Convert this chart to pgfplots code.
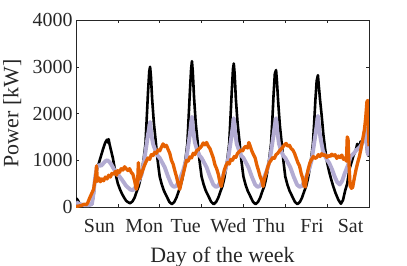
\documentclass[border=0pt]{standalone}
\usepackage{fontspec}
\setmainfont{Liberation Serif}
\usepackage{pgfplots}
\pgfplotsset{compat=1.18}
\definecolor{axgray}{RGB}{38,38,38}
\definecolor{lav}{RGB}{178,171,210}
\definecolor{org}{RGB}{230,97,1}
\begin{document}
\begin{tikzpicture}
\path[use as bounding box] (0,0) rectangle (407bp,266bp);
\begin{axis}[
 at={(76bp,59bp)}, anchor=south west,
 scale only axis, width=293bp, height=187bp,
 xmin=0,xmax=7,ymin=0,ymax=4000,
 xtick={1,...,6}, xticklabels={},
 extra x ticks={0.56,1.63,2.62,3.64,4.61,5.64,6.56},
 extra x tick labels={Sun,Mon,Tue,Wed,Thu,Fri,Sat},
 extra x tick style={major tick length=0pt},
 ytick={0,1000,2000,3000,4000},
 tick align=inside, major tick length=3bp,
 tick style={axgray, line width=0.5bp},
 axis line style={axgray, line width=0.6bp},
 ticklabel style={font=\fontsize{20}{24}\selectfont, text=axgray},
 xticklabel style={yshift=-8.5bp},
 /pgf/number format/assume math mode=true,
 /pgf/number format/set thousands separator={},
 xlabel={Day of the week}, ylabel={Power [kW]},
 label style={font=\fontsize{22}{26}\selectfont, text=axgray},
 xlabel style={at={(axis description cs:0.5,-0.266)}, anchor=center},
 ylabel style={at={(axis description cs:-0.218,0.5)}, anchor=center},
 every axis plot/.append style={line join=round, no markers},
]
\addplot[black, line width=2.6bp] coordinates {
(0,190)(0.04,150)(0.08,80)(0.12,40)(0.2,30)(0.3,35)(0.38,60)(0.42,250)(0.46,600)(0.5,800)(0.55,950)(0.6,1100)(0.65,1250)(0.7,1380)(0.74,1440)(0.76,1380)(0.78,1450)(0.8,1350)(0.84,1200)(0.88,1050)(0.92,850)(0.96,650)(1.0,500)(1.05,380)(1.1,280)(1.15,200)(1.2,130)(1.25,100)
(1.29,80)(1.35,120)(1.4,200)(1.45,330)(1.5,450)(1.54,600)(1.58,800)(1.62,1050)(1.66,1350)(1.69,1900)(1.72,2450)(1.75,2900)(1.77,3000)(1.79,2800)(1.82,2300)(1.86,1800)(1.9,1450)(1.95,1000)(2.0,650)(2.05,480)(2.1,350)(2.17,220)(2.23,110)
(2.29,60)(2.35,110)(2.4,200)(2.45,330)(2.5,460)(2.54,600)(2.58,800)(2.62,1050)(2.66,1350)(2.69,1900)(2.72,2450)(2.75,2950)(2.77,3120)(2.79,2900)(2.82,2350)(2.86,1800)(2.9,1450)(2.95,1000)(3.0,650)(3.05,480)(3.1,350)(3.17,220)(3.23,110)
(3.29,60)(3.35,110)(3.4,200)(3.45,330)(3.5,450)(3.54,600)(3.58,800)(3.62,1050)(3.66,1350)(3.69,1900)(3.72,2450)(3.75,2950)(3.77,3070)(3.79,2850)(3.82,2300)(3.86,1800)(3.9,1450)(3.95,1000)(4.0,650)(4.05,480)(4.1,350)(4.17,220)(4.23,110)
(4.29,60)(4.35,110)(4.4,200)(4.45,330)(4.5,450)(4.54,600)(4.58,800)(4.62,1050)(4.66,1350)(4.69,1850)(4.72,2400)(4.75,2850)(4.78,2930)(4.8,2700)(4.83,2250)(4.87,1750)(4.91,1400)(4.96,950)(5.0,650)(5.05,480)(5.1,350)(5.17,220)(5.23,110)
(5.29,60)(5.35,110)(5.4,200)(5.45,330)(5.5,450)(5.54,600)(5.58,800)(5.62,1050)(5.66,1350)(5.69,1800)(5.72,2300)(5.75,2700)(5.78,2820)(5.8,2600)(5.83,2300)(5.87,1950)(5.91,1550)(5.95,1250)(6.0,950)(6.05,750)(6.1,580)(6.15,430)(6.2,300)(6.27,150)(6.33,70)(6.38,150)(6.43,350)(6.48,500)(6.53,800)(6.58,950)(6.63,1100)(6.68,1200)(6.72,1350)(6.76,1250)(6.8,1400)(6.85,1380)(6.9,1650)(6.93,1450)(6.96,1150)(7.0,1080)
};
\addplot[lav, line width=3.9bp] coordinates {
(0,100)(0.05,80)(0.1,60)(0.2,40)(0.3,40)(0.38,60)(0.42,300)(0.46,650)(0.5,850)(0.55,900)(0.6,880)(0.65,930)(0.7,980)(0.75,1000)(0.8,960)(0.85,900)(0.9,820)(0.95,750)(1.0,700)(1.05,640)(1.1,580)(1.2,450)(1.3,370)(1.36,360)(1.42,420)(1.5,560)(1.57,700)(1.63,1000)(1.68,1300)(1.72,1550)(1.75,1700)(1.77,1820)
(1.8,1550)(1.84,1350)(1.9,1200)(1.95,1100)(2.0,1050)(2.06,950)(2.12,850)(2.2,650)(2.28,480)(2.34,430)(2.4,450)(2.48,600)(2.56,780)(2.63,1000)(2.68,1300)(2.72,1550)(2.75,1800)(2.77,1930)
(2.8,1630)(2.84,1380)(2.9,1200)(2.95,1100)(3.0,1050)(3.06,950)(3.12,850)(3.2,650)(3.28,480)(3.34,430)(3.4,450)(3.48,600)(3.56,780)(3.63,1000)(3.68,1300)(3.72,1550)(3.75,1750)(3.77,1900)
(3.8,1600)(3.84,1350)(3.9,1200)(3.95,1100)(4.0,1050)(4.06,950)(4.12,850)(4.2,650)(4.28,480)(4.34,430)(4.4,450)(4.48,600)(4.56,780)(4.63,1000)(4.68,1300)(4.72,1550)(4.75,1750)(4.78,1900)
(4.81,1600)(4.85,1350)(4.9,1200)(4.95,1100)(5.0,1050)(5.06,950)(5.12,850)(5.2,650)(5.28,480)(5.34,430)(5.4,450)(5.48,600)(5.56,780)(5.63,1000)(5.68,1300)(5.72,1550)(5.75,1750)(5.78,1950)
(5.81,1650)(5.85,1430)(5.9,1200)(5.97,1050)(6.05,940)(6.12,800)(6.18,650)(6.24,530)(6.3,480)(6.36,560)(6.42,720)(6.5,900)(6.56,1080)(6.64,1150)(6.7,1220)(6.78,1280)(6.84,1360)(6.88,1500)(6.91,1700)(6.94,1450)(6.97,1150)(7.0,1100)
};
\addplot[org, line width=3.3bp] coordinates {
(0,0)(0.05,20)(0.12,30)(0.2,60)(0.25,50)(0.28,90)(0.33,200)(0.38,300)(0.42,380)(0.45,550)(0.47,650)(0.49,880)(0.51,550)(0.55,620)(0.58,540)(0.62,600)(0.66,560)(0.7,640)(0.74,600)(0.78,680)(0.82,640)(0.86,720)(0.9,700)(0.94,760)(0.97,680)(1.0,780)(1.04,740)(1.08,820)(1.12,790)(1.16,860)(1.2,820)(1.24,780)(1.28,820)(1.32,740)(1.36,700)(1.4,560)(1.44,380)(1.47,480)(1.49,950)(1.52,600)(1.56,700)(1.6,800)(1.64,900)(1.68,980)(1.72,1050)(1.76,1020)(1.8,1120)(1.84,1100)(1.88,1170)(1.92,1150)(1.96,1220)(2.0,1200)(2.04,1280)(2.08,1350)(2.12,1290)(2.16,1320)(2.2,1230)(2.24,1150)(2.28,1000)(2.32,920)(2.36,780)(2.4,650)(2.44,500)(2.48,380)(2.52,560)(2.56,700)(2.6,850)(2.64,1000)(2.68,980)(2.72,1070)(2.76,1050)(2.8,1150)(2.84,1120)(2.88,1200)(2.92,1230)(2.96,1260)(3.0,1300)(3.04,1370)(3.08,1330)(3.12,1380)(3.16,1300)(3.2,1250)(3.24,1150)(3.28,1050)(3.32,900)(3.36,820)(3.4,700)(3.44,520)(3.47,440)(3.5,580)(3.54,780)(3.58,880)(3.62,950)(3.66,920)(3.7,1020)(3.74,1000)(3.78,1080)(3.82,1060)(3.86,1150)(3.9,1180)(3.94,1220)(3.98,1200)(4.02,1270)(4.06,1300)(4.1,1260)(4.13,1380)(4.17,1280)(4.2,1200)(4.24,1120)(4.28,1050)(4.32,900)(4.36,780)(4.4,650)(4.44,560)(4.47,440)(4.5,600)(4.54,720)(4.58,850)(4.62,950)(4.66,1000)(4.7,1060)(4.74,1040)(4.78,1120)(4.82,1150)(4.86,1200)(4.9,1240)(4.94,1280)(4.98,1330)(5.02,1360)(5.06,1300)(5.1,1320)(5.14,1250)(5.18,1220)(5.22,1150)(5.26,1050)(5.3,950)(5.34,880)(5.38,720)(5.42,600)(5.45,450)(5.48,430)(5.51,650)(5.55,820)(5.59,950)(5.63,1020)(5.67,1080)(5.71,1040)(5.75,1060)(5.79,1120)(5.83,1080)(5.87,1140)(5.91,1100)(5.95,1120)(5.99,1060)(6.03,1100)(6.07,1080)(6.11,1130)(6.15,1090)(6.19,1120)(6.23,1040)(6.27,1090)(6.31,1060)(6.35,1110)(6.39,1020)(6.43,1050)(6.46,980)(6.48,1500)(6.5,1450)(6.52,950)(6.55,450)(6.58,400)(6.61,420)(6.65,620)(6.69,800)(6.73,950)(6.77,1080)(6.81,1250)(6.85,1450)(6.89,1650)(6.92,1900)(6.95,2250)(6.97,2280)(6.99,1600)(7.0,1300)
};
\end{axis}
\end{tikzpicture}
\end{document}
